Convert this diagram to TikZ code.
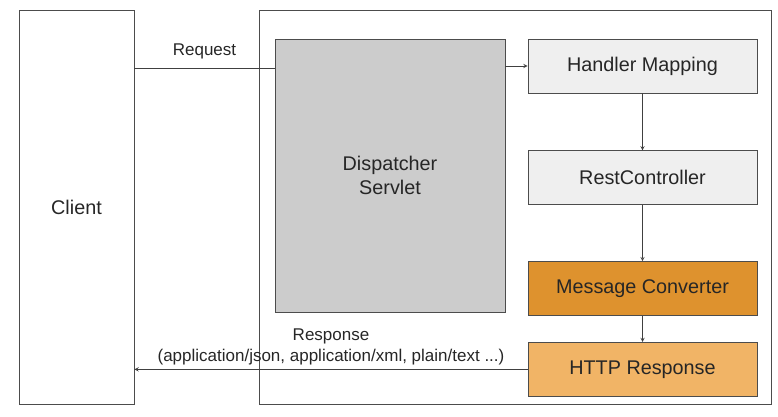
\documentclass[tikz,border=0pt]{standalone}
\usepackage{fontspec}
\setmainfont{Liberation Sans}
\usetikzlibrary{arrows,positioning}

\definecolor{servletgray}{RGB}{204,204,204}
\definecolor{stepgray}{RGB}{239,239,239}
\definecolor{convorange}{RGB}{222,146,46}
\definecolor{resporange}{RGB}{241,180,102}

\tikzset{
  box/.style={draw=black!70,line width=0.8pt,minimum width=229pt,minimum height=54pt,
              inner sep=0pt,font=\fontsize{19.8}{24}\selectfont,text=black!85},
  conn/.style={draw=black!75,line width=0.9pt}
}

\begin{document}
\begin{tikzpicture}[x=1pt,y=-1pt,>=stealth,node distance=57pt]
  \useasboundingbox (0,0) rectangle (778,416);

  % frames
  \node[box,minimum width=115pt,minimum height=394pt] (client) at (76.5,207) {Client};
  \draw[draw=black!70,line width=0.8pt] (259,10) rectangle (771,404);

  % servlet
  \node[box,fill=servletgray,minimum width=230pt,minimum height=273pt,align=center]
       (servlet) at (390,175.5) {Dispatcher\\Servlet};

  % steps
  \node[box,fill=stepgray] (mapping) at (642.5,66) {Handler Mapping};
  \node[box,fill=stepgray,below=of mapping] (controller) {RestController};
  \node[box,fill=convorange,below=56pt of controller] (converter) {Message Converter};
  \node[box,fill=resporange,below=26pt of converter] (response) {HTTP Response};

  % connectors
  \coordinate (req) at (client.east |- 0,68);
  \draw[conn] (req) -- (servlet.west |- req)
       node[midway,above=5pt,font=\fontsize{17}{20}\selectfont,text=black!85] {Request};
  \draw[conn,->] (servlet.east |- mapping.west) -- (mapping.west);
  \draw[conn,->] (mapping) -- (controller);
  \draw[conn,->] (controller) -- (converter);
  \draw[conn,->] (converter) -- (response);
  \draw[conn,->] (response.west) -- (response.west -| client.east)
       node[midway,above=1pt,align=center,font=\fontsize{17}{21}\selectfont,text=black!85]
       {Response\\(application/json, application/xml, plain/text ...)};
\end{tikzpicture}
\end{document}
